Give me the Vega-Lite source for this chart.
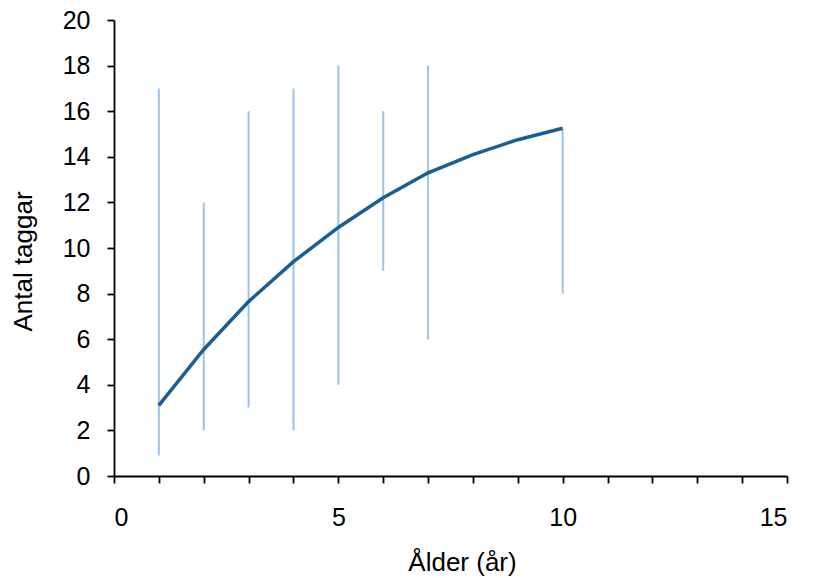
{
  "$schema": "https://vega.github.io/schema/vega-lite/v6.json",
  "width": 673,
  "height": 456,
  "autosize": {"type": "none"},
  "padding": {"left": 114, "top": 20, "right": 26, "bottom": 102},
  "background": "white",
  "config": {
    "view": {"stroke": null},
    "font": "Liberation Sans",
    "axis": {
      "grid": false,
      "domainColor": "black",
      "domainWidth": 1.8,
      "tickColor": "black",
      "tickWidth": 1.8,
      "tickSize": 7,
      "labelFont": "Liberation Sans",
      "labelFontSize": 25,
      "labelColor": "black",
      "titleFont": "Liberation Sans",
      "titleFontSize": 26,
      "titleFontWeight": "normal",
      "titleColor": "black"
    }
  },
  "datasets": {
    "ranges": [
      {"alder": 1, "low": 0.9, "high": 17},
      {"alder": 2, "low": 2, "high": 12},
      {"alder": 3, "low": 3, "high": 16},
      {"alder": 4, "low": 2, "high": 17},
      {"alder": 5, "low": 4, "high": 18},
      {"alder": 6, "low": 9, "high": 16},
      {"alder": 7, "low": 6, "high": 18},
      {"alder": 10, "low": 8, "high": 15.2}
    ],
    "curve": [
      {"alder": 1, "taggar": 3.1},
      {"alder": 2, "taggar": 5.55},
      {"alder": 3, "taggar": 7.65},
      {"alder": 4, "taggar": 9.4},
      {"alder": 5, "taggar": 10.9},
      {"alder": 6, "taggar": 12.2},
      {"alder": 7, "taggar": 13.3},
      {"alder": 8, "taggar": 14.1},
      {"alder": 9, "taggar": 14.75},
      {"alder": 10, "taggar": 15.25}
    ]
  },
  "layer": [
    {
      "data": {"name": "ranges"},
      "mark": {"type": "rule", "color": "#9DC3E6", "strokeWidth": 2},
      "encoding": {
        "x": {
          "field": "alder", "type": "quantitative",
          "scale": {"domain": [0, 15], "nice": false},
          "axis": {
            "title": "Ålder (år)",
            "values": [0,1,2,3,4,5,6,7,8,9,10,11,12,13,14,15],
            "labelExpr": "datum.value % 5 === 0 ? datum.label : ''",
            "labelPadding": 22,
            "titleX": 348,
            "titleY": 94,
            "titleBaseline": "alphabetic"
          }
        },
        "y": {
          "field": "low", "type": "quantitative",
          "scale": {"domain": [0, 20], "nice": false},
          "axis": {
            "title": "Antal taggar",
            "values": [0,2,4,6,8,10,12,14,16,18,20],
            "labelPadding": 17,
            "titleX": -83,
            "titleY": 241,
            "titleBaseline": "alphabetic"
          }
        },
        "y2": {"field": "high"}
      }
    },
    {
      "data": {"name": "curve"},
      "mark": {"type": "line", "color": "#1B5E94", "strokeWidth": 3.5},
      "encoding": {
        "x": {"field": "alder", "type": "quantitative"},
        "y": {"field": "taggar", "type": "quantitative"}
      }
    }
  ]
}
